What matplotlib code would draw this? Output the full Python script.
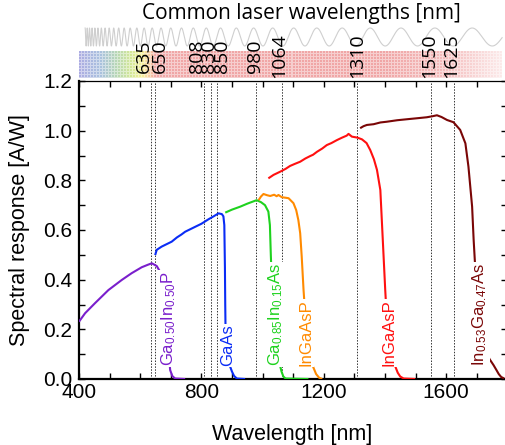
import numpy as np
import matplotlib
matplotlib.use("Agg")
import matplotlib.pyplot as plt
from matplotlib.ticker import MultipleLocator

plt.rcParams['font.family'] = ['Liberation Sans', 'DejaVu Sans']
plt.rcParams['mathtext.default'] = 'regular'

# ---------------- data ----------------
laser_lines = [635, 650, 808, 830, 850, 980, 1064, 1310, 1550, 1625]

gainp_wl = [400, 420, 452, 496, 540, 572, 605, 625, 638, 654, 665, 675, 685, 692, 698, 705, 714, 747]
gainp_r = [0.231, 0.265, 0.305, 0.358, 0.399, 0.426, 0.450, 0.460, 0.466, 0.455, 0.432,
           0.38, 0.25, 0.12, 0.036, 0.012, 0.002, 0.0]

gaas_wl = [649, 654, 670, 703, 720, 735, 747, 780, 800, 823, 840, 856, 867, 872, 875, 877, 878,
           879, 882, 888, 894, 900, 907, 916, 943]
gaas_r = [0.499, 0.520, 0.533, 0.553, 0.570, 0.582, 0.593, 0.613, 0.625, 0.643, 0.655, 0.667,
          0.664, 0.655, 0.62, 0.45, 0.30, 0.20, 0.12, 0.075, 0.05, 0.03, 0.012, 0.002, 0.0]

gainas_wl = [878, 900, 927, 950, 976, 981, 995, 1008, 1019, 1024, 1027, 1030, 1034, 1040, 1048,
             1056, 1062, 1068, 1075, 1150]
gainas_r = [0.670, 0.682, 0.694, 0.706, 0.718, 0.720, 0.712, 0.700, 0.674, 0.62, 0.50, 0.40,
            0.30, 0.20, 0.12, 0.06, 0.03, 0.01, 0.002, 0.0]

ingaasp1_wl = [987, 995, 1003, 1015, 1025, 1038, 1046, 1052, 1063, 1075, 1085, 1101, 1110, 1117,
               1123, 1128, 1134, 1140, 1148, 1158, 1165, 1175, 1185, 1195]
ingaasp1_r = [0.720, 0.735, 0.745, 0.740, 0.737, 0.742, 0.736, 0.741, 0.732, 0.730, 0.728, 0.708,
              0.68, 0.640, 0.587, 0.493, 0.358, 0.25, 0.15, 0.08, 0.05, 0.02, 0.005, 0.0]

ingaasp2_wl = [1019, 1036, 1058, 1075, 1090, 1105, 1123, 1140, 1156, 1165, 1178, 1195, 1210, 1225,
               1243, 1260, 1275, 1281, 1292, 1310, 1325, 1340, 1352, 1364, 1374, 1385, 1393, 1401,
               1405, 1410, 1418, 1428, 1434, 1442, 1450, 1461, 1499]
ingaasp2_r = [0.808, 0.822, 0.835, 0.846, 0.858, 0.866, 0.875, 0.888, 0.898, 0.903, 0.915, 0.928,
              0.942, 0.950, 0.962, 0.972, 0.980, 0.987, 0.976, 0.972, 0.965, 0.950, 0.922, 0.885,
              0.842, 0.761, 0.56, 0.358, 0.27, 0.18, 0.11, 0.07, 0.05, 0.025, 0.01, 0.002, 0.0]

ingaas_wl = [1319, 1330, 1341, 1363, 1385, 1406, 1440, 1472, 1505, 1537, 1555, 1570, 1585, 1603,
             1624, 1646, 1663, 1673, 1685, 1690, 1695, 1700, 1708, 1718, 1730, 1742, 1755, 1765,
             1772, 1780, 1790]
ingaas_r = [1.010, 1.018, 1.023, 1.026, 1.033, 1.036, 1.042, 1.046, 1.050, 1.054, 1.058, 1.062,
            1.055, 1.043, 1.034, 1.003, 0.949, 0.855, 0.694, 0.56, 0.452, 0.36, 0.25, 0.16, 0.11,
            0.08, 0.056, 0.035, 0.02, 0.008, 0.002]

material_names = [r'Ga$_{0.50}$In$_{0.50}$P', 'GaAs', r'Ga$_{0.85}$In$_{0.15}$As',
                  'InGaAsP', 'InGaAsP', r'In$_{0.53}$Ga$_{0.47}$As']

# ---------------- styling ----------------
curves = [(gainp_wl, gainp_r), (gaas_wl, gaas_r), (gainas_wl, gainas_r),
          (ingaasp1_wl, ingaasp1_r), (ingaasp2_wl, ingaasp2_r), (ingaas_wl, ingaas_r)]
colors = ['#7a1fcc', '#0a2cf5', '#1ed21e', '#ff8a00', '#ff1010', '#7a0606']
label_x = [693, 885, 1043, 1141, 1414, 1711]
label_y = 0.052
laser_dx = [-6.8, 4.6, -6.7, -2.0, 5.4, -1.0, -2.5, 0.0, -1.6, -2.5]   # pixels

W, H = 506, 445
fig = plt.figure(figsize=(W / 100, H / 100), dpi=100)
L, R = 79, 507.3
B, T = 379, 81
ax = fig.add_axes([L / W, 1 - B / H, (R - L) / W, (B - T) / H])

for (wl, r), c in zip(curves, colors):
    ax.plot(wl, r, color=c, lw=1.5, zorder=3, solid_capstyle='butt')

for w in laser_lines:
    ax.axvline(w, color='#333333', lw=0.7, ls=(0, (1.5, 1.5)), zorder=2)

for name, x, c in zip(material_names, label_x, colors):
    ax.text(x, label_y, name, rotation=90, ha='center', va='bottom', color=c,
            fontsize=12, zorder=5,
            bbox=dict(facecolor='white', edgecolor='none', pad=0.6))

ax.set_xlim(400, 1800)
ax.set_ylim(0, 1.2)
ax.xaxis.set_major_locator(MultipleLocator(400))
ax.xaxis.set_minor_locator(MultipleLocator(100))
ax.yaxis.set_major_locator(MultipleLocator(0.2))
ax.yaxis.set_minor_locator(MultipleLocator(0.1))
ax.yaxis.set_major_formatter(matplotlib.ticker.FormatStrFormatter('%.1f'))
ax.tick_params(which='both', direction='in', top=True, right=True, length=4,
               width=1.0, labelsize=15)
ax.tick_params(axis='x', pad=3)
ax.tick_params(axis='y', pad=5)
for side in ['left', 'bottom']:
    ax.spines[side].set_linewidth(1.6)
ax.spines['top'].set_linewidth(0.9)
ax.spines['right'].set_linewidth(1.2)

ax.set_xlabel('Wavelength [nm]', fontsize=15.5)
ax.set_ylabel('Spectral response [A/W]', fontsize=15.5)
ax.xaxis.set_label_coords(0.497, -0.150)
ax.yaxis.set_label_coords(-0.114, 0.5)

# ---------------- spectrum strip above the axes ----------------
top = fig.add_axes([L / W, 1 - T / H, (R - L) / W, (T - 20) / H])
top.set_xlim(400, 1800)
top.set_ylim(0, 1)
top.axis('off')

stops_nm = [400, 470, 520, 570, 605, 625, 650, 1400, 1600, 1780]
stops_rgb = np.array([(172, 172, 226), (170, 194, 222), (182, 214, 182), (212, 232, 150),
                      (246, 240, 150), (248, 212, 160), (240, 166, 166), (240, 166, 166),
                      (244, 190, 190), (252, 234, 234)], float) / 255
band_cols = int(round((1780 - 400) * (R - L) / 1400))
band_rows = 27
wl_px = np.linspace(400, 1780, band_cols)
rgb = np.stack([np.interp(wl_px, stops_nm, stops_rgb[:, k]) for k in range(3)], axis=-1)
img = np.repeat(rgb[None, :, :], band_rows, axis=0)
ii, jj = np.meshgrid(np.arange(band_rows), np.arange(band_cols), indexing='ij')
grid = (ii % 3 == 2) | (jj % 3 == 2)
img[grid] = img[grid] * 0.55 + 0.45
band_lo = (T - 78.3) / (T - 20)
band_hi = (T - 51.7) / (T - 20)
top.imshow(img, extent=[400, 1780, band_lo, band_hi], aspect='auto',
           interpolation='nearest', zorder=1)

# chirped wave sketch: local period grows with wavelength
px = 1 / ((R - L) / 1400)
p0, p1 = 2 * px, 42 * px
lam = np.linspace(420, 1783, 6000)
slope = (p1 - p0) / (1783 - 420)
phase = np.log((p0 + slope * (lam - 420)) / p0) / slope
wave_c = (T - 37) / (T - 20)
wave_a = 9 / (T - 20)
top.plot(lam, wave_c + wave_a * np.cos(2 * np.pi * phase), color='#cfcfcf', lw=0.8, zorder=2)

num_y = (T - 56) / (T - 20)
for w, dx in zip(laser_lines, laser_dx):
    top.annotate(str(w), (w, num_y), xytext=(dx * 0.72, 0), textcoords='offset points',
                 rotation=90, ha='center', va='center', fontsize=14,
                 family=['Open Sans', 'DejaVu Sans'], color='black', zorder=3)

fig.text(301.5 / W, 1 - 14 / H, 'Common laser wavelengths [nm]', ha='center', va='center',
         fontsize=15, family=['Open Sans', 'DejaVu Sans'])

fig.savefig('out.png', dpi=100)
